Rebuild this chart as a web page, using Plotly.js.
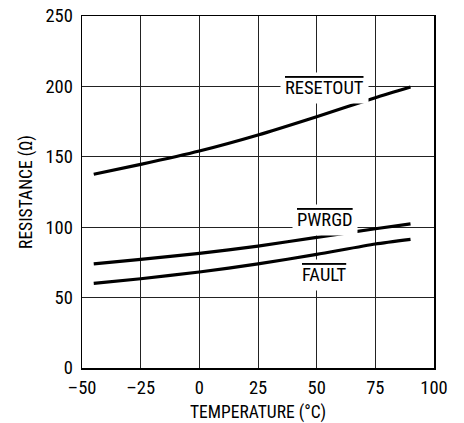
<!DOCTYPE html>
<html><head><meta charset="utf-8">
<script src="https://cdn.plot.ly/plotly-3.0.1.min.js"></script>
<style>html,body{margin:0;padding:0;background:#fff;}</style>
</head><body>
<div id="chart" style="width:464px;height:423px;"></div>
<script>
const temperature = [-45, -25, 0, 25, 50, 75, 90];
const resetout = [137.6, 144.6, 154.1, 165.5, 178.5, 192.0, 199.6];
const pwrgd = [73.9, 77.2, 81.4, 86.6, 92.8, 98.9, 102.3];
const fault = [60.1, 63.4, 68.2, 73.9, 80.7, 88.1, 91.4];
const seriesNames = ['RESETOUT', 'PWRGD', 'FAULT'];
const labelX = [53.5, 53.5, 53.5];
const labelY = [198.6, 105.1, 66];
const xTicks = [-50, -25, 0, 25, 50, 75, 100];
const yTicks = [0, 50, 100, 150, 200, 250];

const FONT = '"Liberation Sans Narrow", "Roboto Condensed", "Liberation Sans", Arial, sans-serif';
const series = [resetout, pwrgd, fault];
const traces = series.map((ys, i) => ({
  x: temperature, y: ys, name: seriesNames[i], type: 'scatter', mode: 'lines',
  line: {color: '#000', width: 3.2, shape: 'spline', smoothing: 0.6}
}));
const annotations = seriesNames.map((n, i) => ({
  x: labelX[i], y: labelY[i], xref: 'x', yref: 'y', showarrow: false,
  text: '<span style="text-decoration:overline">' + n + '</span>',
  bgcolor: '#fff', borderpad: 4,
  font: {family: FONT, size: 18.5, color: '#000'}
}));
const axisCommon = {
  showline: true, linecolor: '#000', linewidth: 1.5, mirror: true,
  showgrid: true, gridcolor: '#222', gridwidth: 1,
  zeroline: false, ticks: '', tickfont: {family: FONT, size: 18.5, color: '#000'},
  fixedrange: true
};
const layout = {
  width: 464, height: 423,
  margin: {l: 82, r: 30, t: 16, b: 55},
  paper_bgcolor: '#fff', plot_bgcolor: '#fff',
  showlegend: false,
  font: {family: FONT, color: '#000'},
  xaxis: Object.assign({}, axisCommon, {
    range: [-50, 100], tickvals: xTicks, ticktext: xTicks.map(v => v < 0 ? '\u2013' + Math.abs(v) : String(v)),
    ticklabelstandoff: 2,
    title: {text: 'TEMPERATURE (°C)', font: {family: FONT, size: 17.5, color: '#000'}, standoff: 9}
  }),
  yaxis: Object.assign({}, axisCommon, {
    range: [0, 250], tickvals: yTicks,
    ticklabelstandoff: 4,
    title: {text: 'RESISTANCE (Ω)', font: {family: FONT, size: 17.5, color: '#000'}, standoff: 8}
  }),
  annotations: annotations
};
Plotly.newPlot('chart', traces, layout, {staticPlot: true, displayModeBar: false});
</script>
</body></html>
